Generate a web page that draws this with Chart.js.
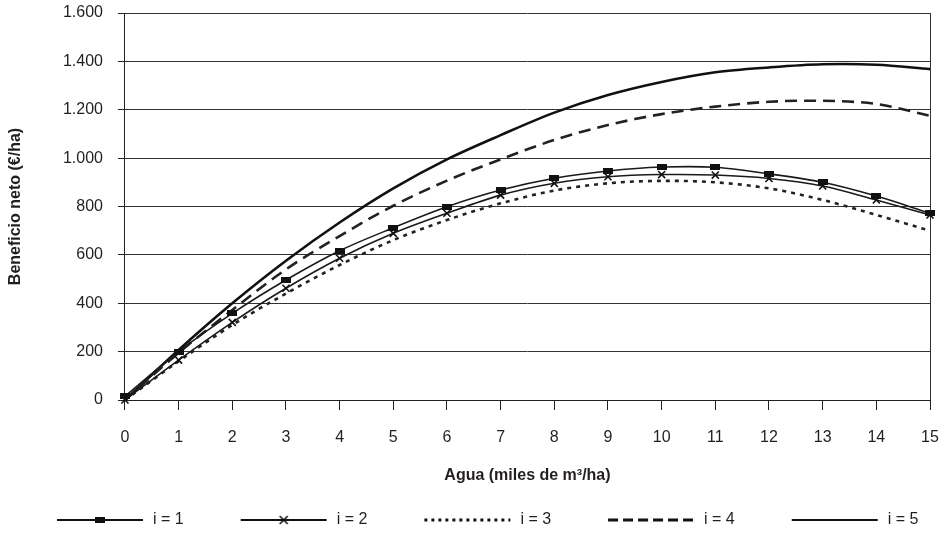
<!DOCTYPE html>
<html>
<head>
<meta charset="utf-8">
<script src="https://cdn.jsdelivr.net/npm/chart.js@4.4.1/dist/chart.umd.min.js"></script>
<style>
  html, body { margin: 0; padding: 0; background: #fff; }
  #wrap { width: 948px; height: 544px; }
</style>
</head>
<body>
<div id="wrap"><canvas id="beneficioChart"></canvas></div>
<script>
// agua aplicada (miles de m3/ha)
const agua = [0, 1, 2, 3, 4, 5, 6, 7, 8, 9, 10, 11, 12, 13, 14, 15];

// beneficio neto (€/ha) para cada i
const beneficioI1 = [15, 200, 358, 496, 617, 712, 799, 868, 917, 947, 963, 962, 935, 900, 843, 772];
const beneficioI2 = [0, 165, 321, 462, 586, 689, 772, 847, 896, 923, 932, 930, 916, 885, 827, 765];
const beneficioI3 = [0, 160, 310, 440, 558, 661, 744, 813, 866, 896, 906, 900, 875, 827, 765, 700];
const beneficioI4 = [0, 195, 372, 540, 678, 803, 907, 995, 1075, 1137, 1182, 1213, 1233, 1237, 1224, 1175];
const beneficioI5 = [0, 207, 400, 576, 734, 875, 995, 1095, 1188, 1261, 1315, 1355, 1375, 1388, 1386, 1368];

const serieLabels = ["i = 1", "i = 2", "i = 3", "i = 4", "i = 5"];
const yMin = 0, yMax = 1600, yStep = 200;

const ink = "#231f20";

// marcador rectangular de la serie i = 1
function rectMarker() {
    const c = document.createElement("canvas");
    c.width = 10; c.height = 6;
    const g = c.getContext("2d");
    g.fillStyle = "#111";
    g.fillRect(0, 0, 10, 6);
    return c;
}

// muestra de linea para la leyenda
function legendSample(kind) {
    const c = document.createElement("canvas");
    c.width = 140; c.height = 16;
    const g = c.getContext("2d");
    const x0 = 52, x1 = 138, y = 8;
    g.strokeStyle = "#111";
    g.lineWidth = 2;
    if (kind === 3) { g.setLineDash([3, 4]); g.lineWidth = 3; }
    if (kind === 4) { g.setLineDash([10, 5]); g.lineWidth = 3; }
    g.beginPath();
    g.moveTo(x0, y);
    g.lineTo(x1, y);
    g.stroke();
    g.setLineDash([]);
    const mid = (x0 + x1) / 2;
    if (kind === 1) {
        g.fillStyle = "#111";
        g.fillRect(mid - 5, y - 3, 10, 6);
    }
    if (kind === 2) {
        g.lineWidth = 1.6;
        g.beginPath();
        g.moveTo(mid - 4, y - 4); g.lineTo(mid + 4, y + 4);
        g.moveTo(mid + 4, y - 4); g.lineTo(mid - 4, y + 4);
        g.stroke();
    }
    return c;
}

function miles(v) {
    return String(v).replace(/\B(?=(\d{3})+(?!\d))/g, ".");
}

Chart.defaults.font.family = "'Liberation Sans', Arial, sans-serif";
Chart.defaults.font.size = 16;
Chart.defaults.color = ink;

const datasets = [
    {
        label: serieLabels[0],
        data: beneficioI1,
        borderColor: "#1a1a1a",
        borderWidth: 1.6,
        pointStyle: rectMarker(),
        pointRadius: 4,
        clip: 8
    },
    {
        label: serieLabels[1],
        data: beneficioI2,
        borderColor: "#1a1a1a",
        borderWidth: 1.6,
        pointStyle: "crossRot",
        pointRadius: 5,
        pointBorderWidth: 1.6,
        pointBorderColor: "#111",
        clip: 8
    },
    {
        label: serieLabels[2],
        data: beneficioI3,
        borderColor: "#222",
        borderWidth: 2.6,
        borderDash: [4, 5],
        pointRadius: 0
    },
    {
        label: serieLabels[3],
        data: beneficioI4,
        borderColor: "#222",
        borderWidth: 2.6,
        borderDash: [12, 7],
        pointRadius: 0
    },
    {
        label: serieLabels[4],
        data: beneficioI5,
        borderColor: "#111",
        borderWidth: 2.6,
        pointRadius: 0
    }
];

new Chart(document.getElementById("beneficioChart"), {
    type: "line",
    data: {
        labels: agua,
        datasets: datasets
    },
    options: {
        responsive: true,
        maintainAspectRatio: false,
        animation: false,
        layout: { padding: { left: 0, right: 18, top: 13, bottom: 6 } },
        elements: {
            line: { tension: 0.33, fill: false },
            point: { backgroundColor: "#111", borderColor: "#111" }
        },
        plugins: {
            tooltip: { enabled: false },
            legend: {
                display: true,
                position: "bottom",
                align: "start",
                labels: {
                    usePointStyle: true,
                    pointStyleWidth: 140,
                    padding: 5,
                    color: ink,
                    font: { size: 16 },
                    generateLabels: function(chart) {
                        return serieLabels.map((text, i) => ({
                            text: text,
                            pointStyle: legendSample(i + 1),
                            fillStyle: "rgba(0,0,0,0)",
                            strokeStyle: "rgba(0,0,0,0)",
                            lineWidth: 0,
                            fontColor: ink,
                            hidden: false,
                            datasetIndex: i
                        }));
                    }
                }
            }
        },
        scales: {
            x: {
                type: "category",
                border: { display: true, color: "#222", width: 1 },
                grid: {
                    drawOnChartArea: true,
                    color: ctx => ctx.index === agua.length - 1 ? "#333" : "rgba(0,0,0,0)",
                    tickColor: "#222",
                    // tick mark 9px, labels 28px below the axis
                    tickLength: 28,
                    tickBorderDash: [9, 100]
                },
                ticks: { padding: 0, maxRotation: 0, autoSkip: false, color: ink },
                title: {
                    display: true,
                    text: "Agua (miles de m³/ha)",
                    font: { size: 16, weight: "bold" },
                    color: ink,
                    padding: { top: 19.2, bottom: 21.4 }
                }
            },
            y: {
                min: yMin,
                max: yMax,
                border: { display: true, color: "#222", width: 1 },
                grid: {
                    color: "#333",
                    tickColor: "#222",
                    // tick mark 7px next to the axis, labels 22px away
                    tickLength: 22,
                    tickBorderDash: [0, 15, 7, 100]
                },
                ticks: {
                    stepSize: yStep,
                    padding: 0,
                    color: ink,
                    callback: v => miles(v)
                },
                title: {
                    display: true,
                    text: "Beneficio neto (€/ha)",
                    font: { size: 16, weight: "bold" },
                    color: ink,
                    padding: { top: 6, bottom: 37.7 }
                }
            }
        }
    }
});
</script>
</body>
</html>
